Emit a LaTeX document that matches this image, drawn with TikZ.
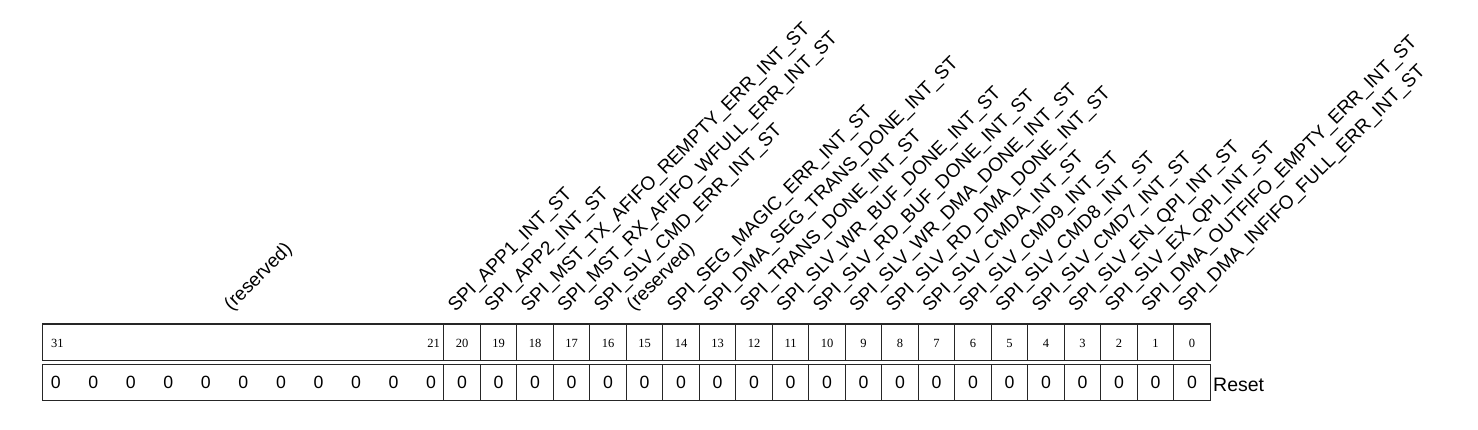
\documentclass[tikz,border=0pt]{standalone}
\usepackage{fontspec}
\newfontfamily\labfont{Liberation Sans}
\newfontfamily\numfont{Liberation Serif}
\begin{document}
\begin{tikzpicture}[x=1pt,y=-1pt,
  regline/.style={draw=black!85,line width=1.2pt},
  fieldlab/.style={rotate=45,anchor=base west,inner sep=0pt,font=\labfont\fontsize{19}{22}\selectfont},
  bitnum/.style={inner sep=0pt,font=\numfont\fontsize{12.5}{14}\selectfont},
  resetval/.style={anchor=base,inner sep=0pt,font=\labfont\fontsize{17.7}{20}\selectfont},
  resetlab/.style={anchor=base west,inner sep=0pt,font=\labfont\fontsize{19.5}{22}\selectfont}]
\useasboundingbox (0,0) rectangle (1478,429);
\def\Lx{42.3}
\def\Cw{36.5}
% row frames
\draw[regline] (\Lx,324) rectangle (1210.3,360.3);
\draw[regline] (\Lx,364.7) rectangle (1210.3,400.7);
\foreach \i in {11,...,31}{
  \draw[regline] ({\Lx+\i*\Cw},324) -- ({\Lx+\i*\Cw},360.3);
  \draw[regline] ({\Lx+\i*\Cw},364.7) -- ({\Lx+\i*\Cw},400.7);
}
% bit numbers
\node[bitnum,anchor=base west] (n31) at (51,347.3) {31};
\node[bitnum,anchor=base east] (n21) at (440,347.3) {21};
\foreach \b in {20,...,0}{
  \node[bitnum,anchor=base] (n\b) at ({\Lx+(31.5-\b)*\Cw},347.3) {\b};
}
% reset values
\foreach \i in {0,...,10}{
  \node[resetval] (z\i) at ({55.8+37.52*\i},388.3) {0};
}
\foreach \b in {20,...,0}{
  \node[resetval] (v\b) at ({\Lx+(31.5-\b)*\Cw},388.3) {0};
}
\node[resetlab] (reset) at (1213,391.7) {Reset};
% field labels
\node[fieldlab] (fres) at (231.5,311.5) {(reserved)};
\foreach \b/\t in {
  20/SPI\_APP1\_INT\_ST,
  19/SPI\_APP2\_INT\_ST,
  18/SPI\_MST\_TX\_AFIFO\_REMPTY\_ERR\_INT\_ST,
  17/SPI\_MST\_RX\_AFIFO\_WFULL\_ERR\_INT\_ST,
  16/SPI\_SLV\_CMD\_ERR\_INT\_ST,
  14/SPI\_SEG\_MAGIC\_ERR\_INT\_ST,
  13/SPI\_DMA\_SEG\_TRANS\_DONE\_INT\_ST,
  12/SPI\_TRANS\_DONE\_INT\_ST,
  11/SPI\_SLV\_WR\_BUF\_DONE\_INT\_ST,
  10/SPI\_SLV\_RD\_BUF\_DONE\_INT\_ST,
  9/SPI\_SLV\_WR\_DMA\_DONE\_INT\_ST,
  8/SPI\_SLV\_RD\_DMA\_DONE\_INT\_ST,
  7/SPI\_SLV\_CMDA\_INT\_ST,
  6/SPI\_SLV\_CMD9\_INT\_ST,
  5/SPI\_SLV\_CMD8\_INT\_ST,
  4/SPI\_SLV\_CMD7\_INT\_ST,
  3/SPI\_SLV\_EN\_QPI\_INT\_ST,
  2/SPI\_SLV\_EX\_QPI\_INT\_ST,
  1/SPI\_DMA\_OUTFIFO\_EMPTY\_ERR\_INT\_ST,
  0/SPI\_DMA\_INFIFO\_FULL\_ERR\_INT\_ST}{
  \node[fieldlab] (f\b) at ({\Lx+(31.5-\b)*\Cw-6.5},312.5) {\t};
}
\node[fieldlab] (f15) at ({\Lx+(31.5-15)*\Cw-10.5},311.5) {(reserved)};
\end{tikzpicture}
\end{document}
